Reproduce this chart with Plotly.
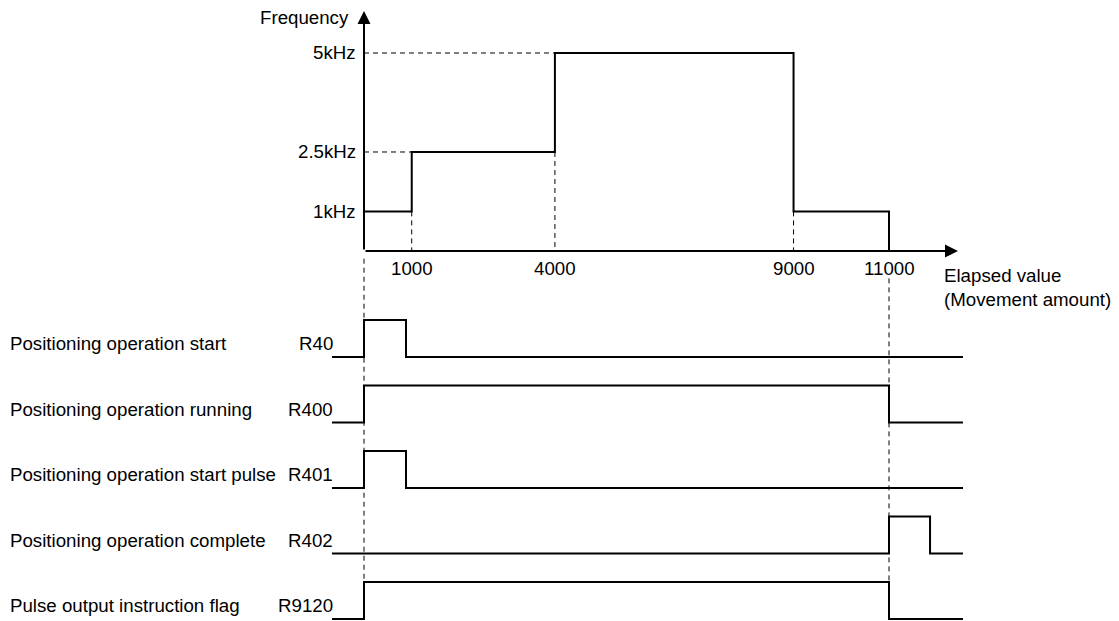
import plotly.graph_objects as go

# frequency profile (elapsed value = movement amount)
elapsed = [0, 1000, 4000, 9000, 11000]
freq_khz = [1, 2.5, 5, 1, 0]
freq_ticks = [1, 2.5, 5]
freq_labels = ['1kHz', '2.5kHz', '5kHz']
elapsed_ticks = [1000, 4000, 9000, 11000]
elapsed_labels = ['1000', '4000', '9000', '11000']

# timing signals
signal_names = ['Positioning operation start', 'Positioning operation running',
                'Positioning operation start pulse', 'Positioning operation complete',
                'Pulse output instruction flag']
signal_relays = ['R40', 'R400', 'R401', 'R402', 'R9120']
signal_on = [0, 0, 0, 11000, 0]
signal_off = [880, 11000, 880, 11860, 11000]
t_start, t_end = -670, 12550

FONT = dict(family='Liberation Sans, Arial, sans-serif', size=18.7, color='black')
h = 0.565  # signal high level in row units

fig = go.Figure()

# frequency step curve
fig.add_trace(go.Scatter(x=elapsed, y=freq_khz, mode='lines',
                         line=dict(shape='hv', color='black', width=2),
                         cliponaxis=False))

# dashed guide lines for each step
dash = dict(color='black', width=1, dash='5px,4px')
for i in range(1, 4):
    lo = min(freq_khz[i - 1], freq_khz[i])
    fig.add_trace(go.Scatter(x=[elapsed[i], elapsed[i]], y=[lo, 0], mode='lines', line=dash))
    if freq_khz[i] > freq_khz[i - 1]:
        fig.add_trace(go.Scatter(x=[0, elapsed[i]], y=[freq_khz[i], freq_khz[i]],
                                 mode='lines', line=dash))

# timing rows
for i, (on, off) in enumerate(zip(signal_on, signal_off)):
    base = -i
    fig.add_trace(go.Scatter(x=[t_start, on, off, t_end], y=[base, base + h, base, base],
                             mode='lines', yaxis='y2',
                             line=dict(shape='hv', color='black', width=2)))
    fig.add_annotation(text=signal_names[i], xref='paper', x=0, xanchor='left',
                       yref='y2', y=base + 0.2, yanchor='middle', showarrow=False, font=FONT)
    fig.add_annotation(text=signal_relays[i], xref='x', x=t_start, xanchor='right', xshift=3,
                       yref='y2', y=base + 0.2, yanchor='middle', showarrow=False, font=FONT)

# long dashed markers for start / end of movement
for x0, top in [(0, 1.5), (11000, 1.2)]:
    fig.add_trace(go.Scatter(x=[x0, x0], y=[top, -4 + h], mode='lines', yaxis='y2', line=dash))

# axes with arrows
fig.add_annotation(x=0, y=6.06, ax=0, ay=0, xref='x', yref='y', axref='x', ayref='y',
                   showarrow=True, arrowhead=2, arrowsize=1.3, arrowwidth=2, arrowcolor='black',
                   text='')
fig.add_annotation(x=12445, y=0, ax=0, ay=0, xref='x', yref='y', axref='x', ayref='y',
                   showarrow=True, arrowhead=2, arrowsize=1.3, arrowwidth=2, arrowcolor='black',
                   text='')

# axis labels
for v, lab in zip(freq_ticks, freq_labels):
    fig.add_annotation(text=lab, x=0, xanchor='right', xshift=-6, y=v, yanchor='middle',
                       showarrow=False, font=FONT)
for v, lab in zip(elapsed_ticks, elapsed_labels):
    fig.add_annotation(text=lab, x=v, xanchor='center', y=0, yshift=-17, yanchor='middle',
                       showarrow=False, font=FONT)
fig.add_annotation(text='Frequency', x=0, xanchor='right', xshift=-13, y=5.9, yanchor='middle',
                   showarrow=False, font=FONT)
fig.add_annotation(text='Elapsed value<br>(Movement amount)', x=12110, xanchor='left',
                   y=-0.91, yanchor='middle', align='left', showarrow=False, font=FONT)

# page body adds an 8px offset, so the figure is 8px smaller and ranges shifted
fig.update_layout(
    width=1111, height=613,
    margin=dict(l=0, r=0, t=0, b=0),
    paper_bgcolor='white', plot_bgcolor='white',
    showlegend=False,
    xaxis=dict(range=[-7459, 15819], visible=False, fixedrange=True),
    yaxis=dict(range=[-9.343, 6.136], visible=False, fixedrange=True),
    yaxis2=dict(range=[-4.031, 5.328], visible=False, overlaying='y', fixedrange=True),
)

fig.write_html("out.html")
